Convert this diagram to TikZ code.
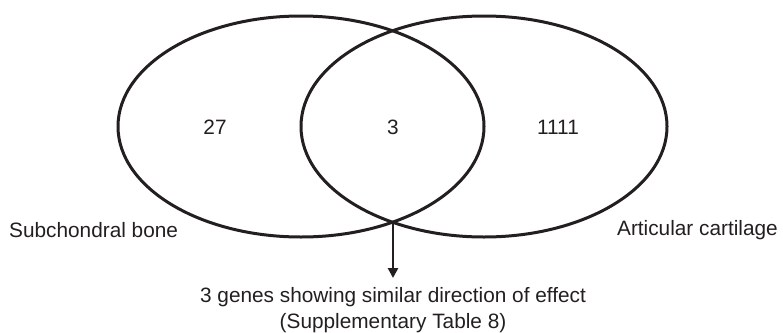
\documentclass[tikz,border=0pt]{standalone}
\usepackage{fontspec}
\setmainfont{Liberation Sans}
\usetikzlibrary{shapes.geometric,arrows.meta}
\definecolor{ink}{HTML}{231F20}
\begin{document}
\begin{tikzpicture}[x=1pt,y=-1pt,
  venn/.style={draw=ink, line width=3pt, ellipse, minimum width=366pt, minimum height=221pt, inner sep=0pt, outer sep=0pt},
  lbl/.style={text=ink, font=\fontsize{20.8}{26}\selectfont, inner sep=0pt},
  pointer/.style={draw=ink, line width=2.6pt, -{Triangle[length=10pt,width=10pt]}}]
\useasboundingbox (0,0) rectangle (783,332);
\node[venn] (sb) at (301,126.5) {};
\node[venn] (ac) at (484,126.5) {};
\node[lbl] (n27) at (215,127) {27};
\node[lbl] (n3) at (393,127) {3};
\node[lbl] (n1111) at (558,127) {1111};
\node[lbl, anchor=west] (sbl) at (9,230) {Subchondral bone};
\node[lbl, anchor=east] (acl) at (778,230) {Articular cartilage};
\coordinate (bot) at (393,222);
\coordinate (tip) at (393,278);
\draw[pointer] (bot) -- (tip);
\node[lbl, align=center] (note) at (393,310) {3 genes showing similar direction of effect\\(Supplementary Table 8)};
\end{tikzpicture}
\end{document}
